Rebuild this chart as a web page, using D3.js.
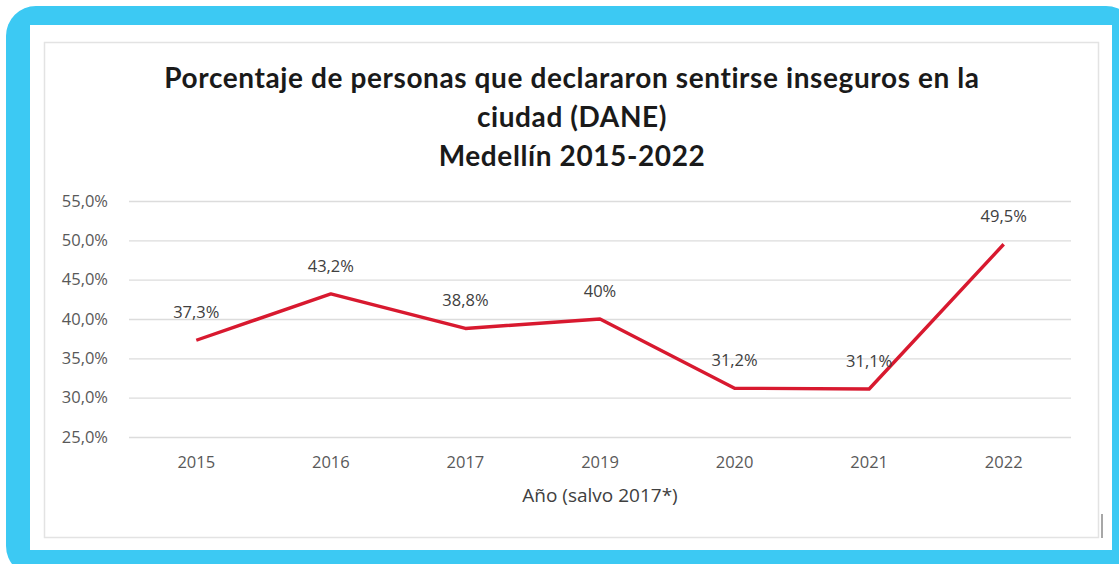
<!DOCTYPE html>
<html>
<head>
<meta charset="utf-8">
<script src="https://cdn.jsdelivr.net/npm/d3@7"></script>
<style>
  body { margin: 0; background: #ffffff; }
  svg { display: block; }
</style>
</head>
<body>
<div id="chart"></div>
<script>
// data
var years = ["2015", "2016", "2017", "2019", "2020", "2021", "2022"];
var values = [37.3, 43.2, 38.8, 40, 31.2, 31.1, 49.5];
var valueLabels = ["37,3%", "43,2%", "38,8%", "40%", "31,2%", "31,1%", "49,5%"];
var yTicks = [25, 30, 35, 40, 45, 50, 55];
var titleLines = ["Porcentaje de personas que declararon sentirse inseguros en la", "ciudad (DANE)", "Medellín 2015-2022"];
var xTitle = "Año (salvo 2017*)";

var svgWidth = 1119;
var svgHeight = 564;

var plot = {"left": 129, "right": 1071, "top": 201, "bottom": 437};

var svg = d3.select("#chart").append("svg")
  .attr("width", svgWidth)
  .attr("height", svgHeight);

// cyan frame
svg.append("rect")
  .attr("x", 6).attr("y", 6)
  .attr("width", 1130).attr("height", 570)
  .attr("rx", 30).attr("ry", 30)
  .attr("fill", "#3cc9f3");
svg.append("rect")
  .attr("x", 30).attr("y", 25)
  .attr("width", 1082).attr("height", 525)
  .attr("fill", "#ffffff");

// chart panel
svg.append("rect")
  .attr("x", 44.5).attr("y", 42.5)
  .attr("width", 1054).attr("height", 495)
  .attr("fill", "#ffffff")
  .attr("stroke", "#e3e3e3")
  .attr("stroke-width", 1.5);
svg.append("line")
  .attr("x1", 1102).attr("x2", 1102)
  .attr("y1", 514).attr("y2", 538)
  .attr("stroke", "#8a8a8a")
  .attr("stroke-width", 1.5);

// title
svg.append("g").selectAll("text")
  .data(titleLines)
  .enter()
  .append("text")
  .attr("x", 572)
  .attr("y", function(d, i) { return 88 + i * 39; })
  .attr("text-anchor", "middle")
  .attr("font-family", "Lato, 'Open Sans', sans-serif")
  .attr("font-weight", "bold")
  .attr("font-size", 28)
  .attr("letter-spacing", 0.6)
  .attr("fill", "#1a1a1a")
  .text(function(d) { return d; });

var xScale = d3.scaleBand().domain(years).range([plot.left, plot.right]);
var yScale = d3.scaleLinear().domain([25, 55]).range([plot.bottom, plot.top]);

var smallFont = "'Open Sans', sans-serif";
var smallSize = 16.5;

// grid + y axis
var yAxis = d3.axisLeft(yScale)
  .tickValues(yTicks)
  .tickSize(-(plot.right - plot.left))
  .tickPadding(21)
  .tickFormat(function(d) { return d3.format(".1f")(d).replace(".", ",") + "%"; });

var yG = svg.append("g")
  .attr("transform", "translate(" + plot.left + ",0)")
  .call(yAxis);
yG.select(".domain").remove();
yG.selectAll(".tick line").attr("stroke", "#dcdcdc").attr("stroke-width", 1.3);
yG.selectAll(".tick text")
  .attr("font-family", smallFont)
  .attr("font-size", smallSize)
  .attr("fill", "#595959");

// x axis
var xAxis = d3.axisBottom(xScale).tickSize(0).tickPadding(19);
var xG = svg.append("g")
  .attr("transform", "translate(0," + plot.bottom + ")")
  .call(xAxis);
xG.select(".domain").remove();
xG.selectAll(".tick text")
  .attr("font-family", smallFont)
  .attr("font-size", smallSize)
  .attr("fill", "#595959");

svg.append("text")
  .attr("x", 600)
  .attr("y", 502)
  .attr("text-anchor", "middle")
  .attr("font-family", smallFont)
  .attr("font-size", 19)
  .attr("fill", "#404040")
  .text(xTitle);

// line
var line = d3.line()
  .x(function(d, i) { return xScale(years[i]) + xScale.bandwidth() / 2; })
  .y(function(d) { return yScale(d); });

svg.append("path")
  .datum(values)
  .attr("d", line)
  .attr("fill", "none")
  .attr("stroke", "#d8192f")
  .attr("stroke-width", 3.4)
  .attr("stroke-linejoin", "round");

// value labels
svg.append("g").selectAll("text")
  .data(values)
  .enter()
  .append("text")
  .attr("x", function(d, i) { return xScale(years[i]) + xScale.bandwidth() / 2; })
  .attr("y", function(d) { return yScale(d) - 22; })
  .attr("text-anchor", "middle")
  .attr("font-family", smallFont)
  .attr("font-size", smallSize)
  .attr("fill", "#404040")
  .text(function(d, i) { return valueLabels[i]; });
</script>
</body>
</html>
